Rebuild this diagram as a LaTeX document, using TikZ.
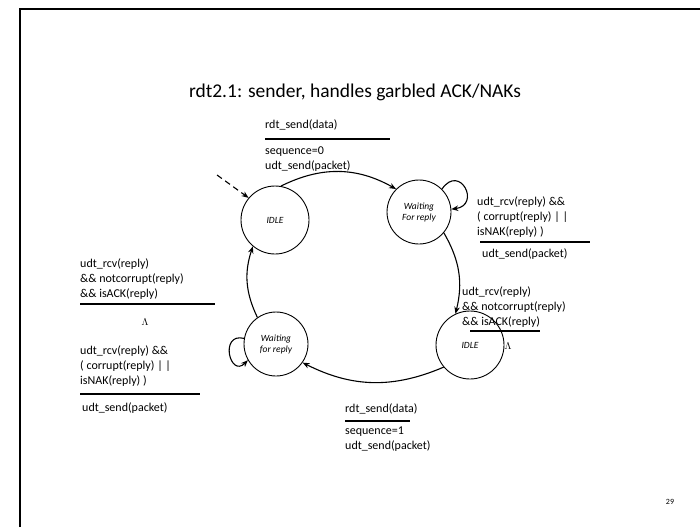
\documentclass[tikz,border=0pt]{standalone}
\usepackage{fontspec}
\setmainfont{Carlito}
\usetikzlibrary{arrows.meta,positioning}

\tikzset{
  state/.style={draw, circle, line width=0.9pt, minimum size=68pt, inner sep=0pt,
    align=center, font=\fontsize{9.5}{11}\selectfont\itshape},
  trans/.style={line width=1.1pt, -{Stealth[length=7pt,width=5.5pt]}},
  lbl/.style={align=left, inner sep=0pt, anchor=north west, font=\fontsize{12}{15}\selectfont},
  bar/.style={line width=1.8pt},
}

\begin{document}
\begin{tikzpicture}[x=1pt,y=-1pt]
  \useasboundingbox (0,0) rectangle (700,527);
  % slide frame
  \draw[line width=2pt] (20,527) -- (20,9) -- (700,9);
  \node[font=\fontsize{19.5}{23}\selectfont] (title) at (355,92) {rdt2.1: sender, handles garbled ACK/NAKs};

  % states
  \node[state] (idleA) at (275,220) {IDLE};
  \node[state, minimum size=64pt] (waitA) at (419,212) {Waiting\\For reply};
  \node[state] (idleB) at (470,345) {IDLE};
  \node[state, minimum size=64pt] (waitB) at (276,344) {Waiting\\for reply};
  \coordinate (start) at (217,175);

  % transitions
  \draw[trans, dashed, dash pattern=on 6pt off 4pt] (start) -- (idleA.140);
  \draw[trans] (idleA.80) to[bend left=28] (waitA.135);
  \draw[trans] (waitA.45) .. controls +(18,-26) and +(30,-4) .. (waitA.5);
  \draw[trans] (waitA.-40) to[bend left=22] (idleB.115);
  \draw[trans] (idleB.-140) to[bend left=25] (waitB.-35);
  \draw[trans] (waitB.170) .. controls +(-25,-6) and +(-18,18) .. (waitB.-150);
  \draw[trans] (waitB.125) to[bend left=22] (idleA.-130);

  % labels: idleA -> waitA
  \node[lbl] (evA) at (265,119.5) {rdt\_send(data)};
  \draw[bar] (265,139) -- (390,139);
  \node[lbl] (acA) at (265,146.5) {sequence=0\\udt\_send(packet)};

  % labels: waitA self loop
  \node[lbl] (evLoopA) at (477,196.5) {udt\_rcv(reply) \&\&\\( corrupt(reply) | |\\isNAK(reply) )};
  \draw[bar] (480,242) -- (590,242);
  \node[lbl] (acLoopA) at (482,248.5) {udt\_send(packet)};

  % labels: waitA -> idleB
  \node[lbl] (evB) at (462,286.5) {udt\_rcv(reply)\\\&\& notcorrupt(reply)\\\&\& isACK(reply)};
  \draw[bar] (470,331) -- (540,331);
  \node (lamB) at (508,346) {$\Lambda$};

  % labels: idleB -> waitB
  \node[lbl] (evC) at (345,403.5) {rdt\_send(data)};
  \draw[bar] (345,421) -- (410,421);
  \node[lbl] (acC) at (345,426.5) {sequence=1\\udt\_send(packet)};

  % labels: waitB self loop
  \node[lbl] (evLoopB) at (80,345.5) {udt\_rcv(reply) \&\&\\( corrupt(reply) | |\\isNAK(reply) )};
  \draw[bar] (80,394) -- (200,394);
  \node[lbl] (acLoopB) at (82,402.5) {udt\_send(packet)};

  % labels: waitB -> idleA
  \node[lbl] (evD) at (80,258.5) {udt\_rcv(reply)\\\&\& notcorrupt(reply)\\\&\& isACK(reply)};
  \draw[bar] (80,304) -- (215,304);
  \node (lamD) at (145,322) {$\Lambda$};

  \node[font=\fontsize{8}{10}\selectfont] (page) at (670,502) {29};
\end{tikzpicture}
\end{document}
